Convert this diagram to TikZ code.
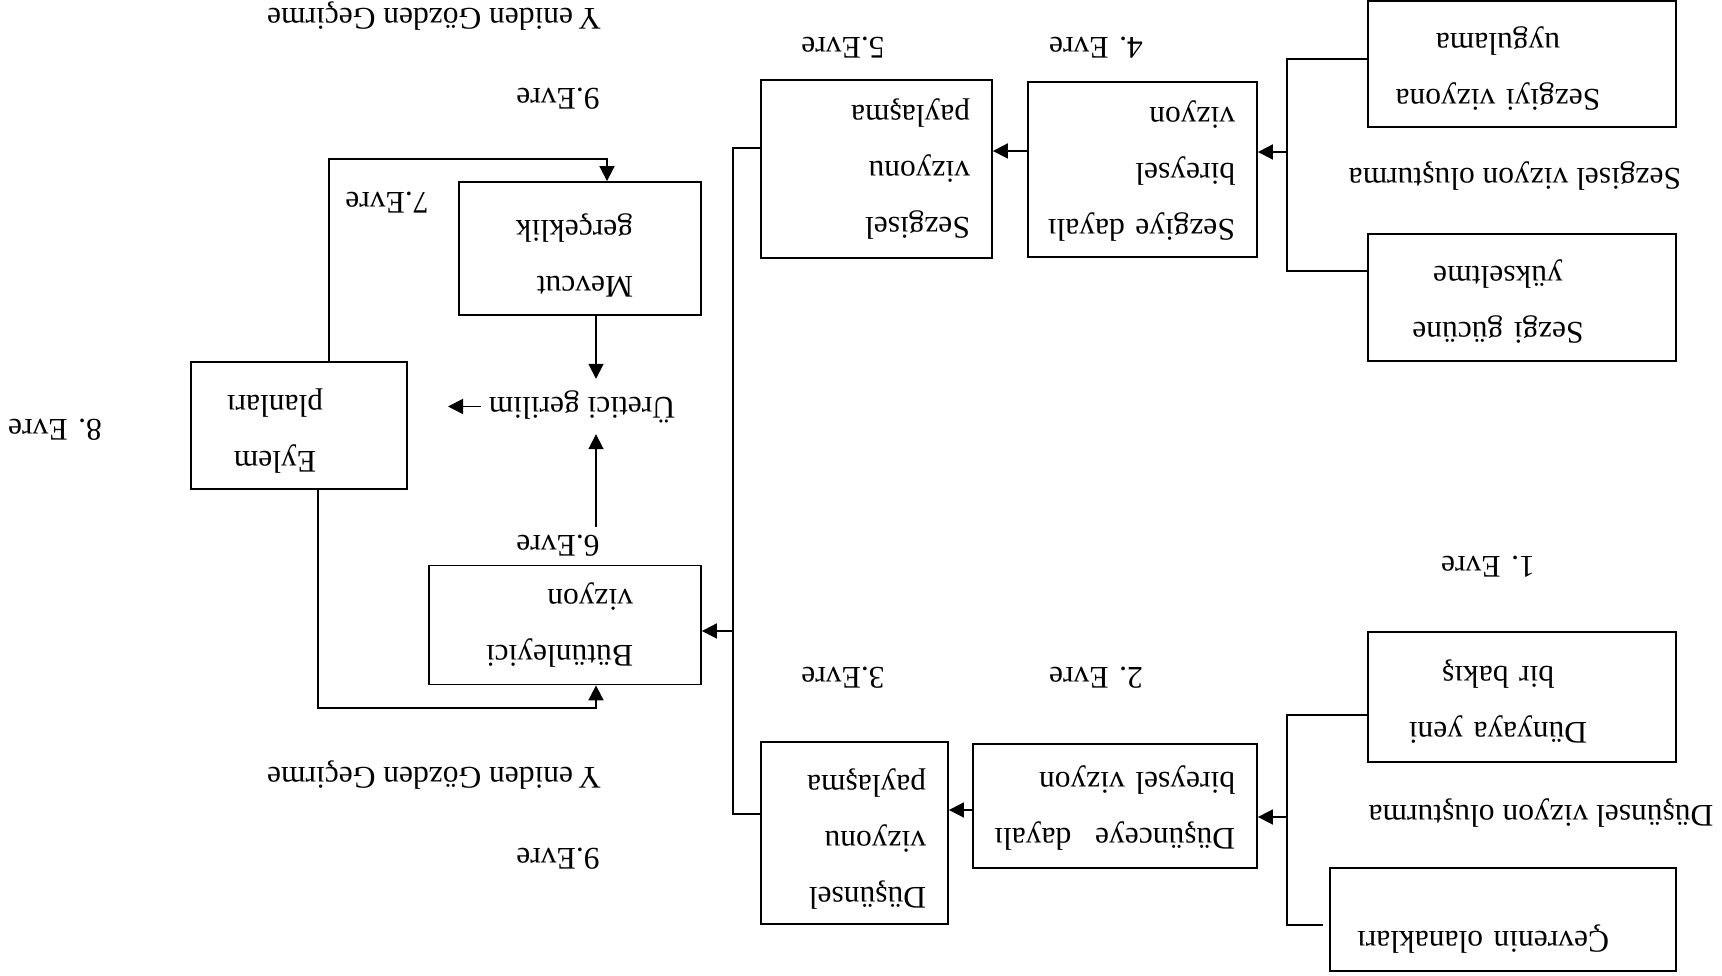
\documentclass[tikz,border=0pt]{standalone}
\usepackage{fontspec}
\setmainfont{Liberation Serif}
\usetikzlibrary{arrows.meta,calc}
% \dnshift{d}: deepens the last line so that the text block sits d pt lower (in the shown picture)
\newcommand{\dnshift}[1]{\rule[-\dimexpr7pt+#1pt*2\relax]{0pt}{\dimexpr7pt+#1pt*2\relax}}
\newcommand{\cshift}{\hspace*{48pt}}
\begin{document}
\begin{tikzpicture}[x=1pt,y=1pt,
  every node/.style={font=\fontsize{31.5}{56}\selectfont},
  box/.style={draw, line width=1.8pt, inner ysep=0pt},
  lbox/.style={box, align=left},
  cbox/.style={box, align=center, inner xsep=10pt},
  lab/.style={inner sep=0pt},
  conn/.style={line width=1.8pt},
  arr/.style={conn, -{Triangle[length=15pt,width=15pt]}}]
\useasboundingbox (0,0) rectangle (1722,976);
\begin{scope}[rotate around={180:(861,488)}, transform shape]
% boxes (original orientation: X = 1722 - x_image, Y = row_image)
\node[cbox, minimum width=308, minimum height=126, text width=288] (SVU) at (200,64) {\cshift Sezgiyi vizyona\\\cshift uygulama\dnshift{4}};
\node[cbox, minimum width=308, minimum height=127, text width=288] (SGY) at (200,297.5) {\cshift Sezgi gücüne\\\cshift yükseltme\dnshift{4}};
\node[cbox, minimum width=308, minimum height=130, text width=288] (DYB) at (200,697) {\cshift Dünyaya yeni\\\cshift bir bakış\dnshift{4.5}};
\node[lbox, minimum width=346, minimum height=103, inner xsep=67, text width=212] (CO) at (219,919.5) {\mbox{Çevrenin olanakları}\dnshift{19}};
\node[lbox, minimum width=229, minimum height=175, inner xsep=22, text width=185] (SDBV) at (579.5,169.5) {\mbox{Sezgiye dayalı}\\bireysel\\vizyon\dnshift{1}};
\node[lbox, minimum width=284, minimum height=124, inner xsep=22, text width=240] (DDBV) at (607,806) {\mbox{Düşünceye\hspace{0.75em}dayalı}\\bireysel vizyon\dnshift{2}};
\node[lbox, minimum width=231, minimum height=178, inner xsep=22, text width=187] (SVP) at (845.5,169) {Sezgisel\\vizyonu\\paylaşma};
\node[lbox, minimum width=187, minimum height=182, inner xsep=22, text width=143] (DVP) at (867.5,833) {Düşünsel\\vizyonu\\paylaşma\dnshift{5.5}};
\node[lbox, minimum width=242, minimum height=133, inner xsep=68, text width=106] (MG) at (1142,248.5) {Mevcut\\\mbox{gerçeklik}\dnshift{7}};
\node[lbox, minimum width=272, minimum height=119, inner xsep=68, text width=136] (BV) at (1157,625) {\mbox{Bütünleyici}\\vizyon};
\node[cbox, minimum width=216, minimum height=127, text width=196] (EP) at (1423,425.5) {\cshift Eylem\\\cshift planları\dnshift{5}};
\node[lab, minimum height=55] (UG) at (1140,406.5) {Üretici gerilim};
% free labels
\node[lab] (Lyg1) at (1288,16) {Y\kern5pt eniden Gözden Geçirme};
\node[lab] (L9a) at (1164,99) {9.Evre};
\node[lab] (L7) at (1335,203) {7.Evre};
\node[lab] (L8) at (1667,430) {8. Evre};
\node[lab] (L6) at (1164,546) {6.Evre};
\node[lab] (Lyg2) at (1288,775) {Y\kern5pt eniden Gözden Geçirme};
\node[lab] (L9b) at (1164,859) {9.Evre};
\node[lab] (L5) at (879,48) {5.Evre};
\node[lab] (L4) at (626,48) {4. Evre};
\node[lab] (LS) at (207,176) {Sezgisel vizyon oluşturma};
\node[lab] (L1) at (234,567) {1. Evre};
\node[lab] (L3) at (879,678) {3.Evre};
\node[lab] (L2) at (626,678) {2. Evre};
\node[lab] (LD) at (181,813) {Düşünsel vizyon oluşturma};
% coordinates
\coordinate (b1t) at (435,59);
\coordinate (b1m) at (435,152);
\coordinate (b1b) at (435,271);
\coordinate (b2t) at (435,715);
\coordinate (b2m) at (435,817);
\coordinate (b2b) at (435,925);
\coordinate (c2e) at (399,925);
\coordinate (blt) at (989,148);
\coordinate (blm) at (989,631);
\coordinate (blb) at (989,814);
\coordinate (ax) at (1126,0);
\coordinate (bvs) at (1126,527);
\coordinate (ua) at (1274,406.5);
\coordinate (p1) at (1393,159);
\coordinate (p2) at (1115,159);
\coordinate (q1) at (1404,708);
\coordinate (q2) at (1126,708);
% connectors
\draw[conn] (SVU.east |- b1t) -- (b1t) -- (b1b) -- (SGY.east |- b1b);
\draw[arr] (b1m) -- (SDBV.west |- b1m);
\draw[conn] (DYB.east |- b2t) -- (b2t) -- (b2b) -- (c2e);
\draw[arr] (b2m) -- (DDBV.west |- b2m);
\draw[arr] ([yshift=-18.5pt]SDBV.east) -- ([yshift=-18pt]SVP.west);
\draw[arr] ([yshift=4pt]DDBV.east) -- ([yshift=-23pt]DVP.west);
\draw[conn] (SVP.east |- blt) -- (blt) -- (blb) -- (DVP.east |- blb);
\draw[arr] (blm) -- (BV.west |- blm);
\draw[arr] (MG.north -| ax) -- (UG.south -| ax);
\draw[arr] (bvs) -- (UG.north -| ax);
\draw[arr, shorten <=8pt] (UG.east) -- (ua);
\draw[arr] (EP.south -| p1) -- (p1) -- (p2) -- (MG.south -| p2);
\draw[arr] (EP.north -| q1) -- (q1) -- (q2) -- (BV.north -| q2);
\end{scope}
\end{tikzpicture}
\end{document}
